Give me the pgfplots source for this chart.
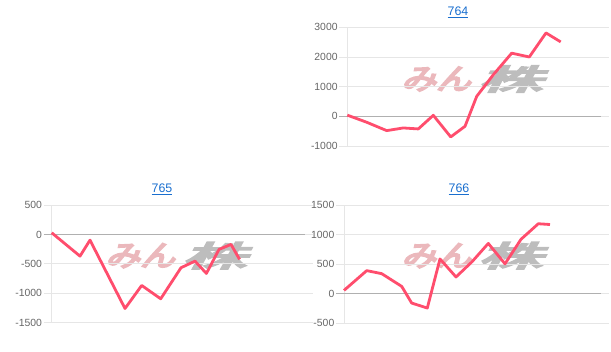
\documentclass[border=0pt]{standalone}
\usepackage{graphicx}
\usepackage{pgfplots}
\pgfplotsset{compat=1.18}
\usepackage{fontspec}
\setmainfont{Liberation Sans}
\newfontfamily\cjk[FakeBold=6,FakeSlant=0.25]{Noto Sans CJK JP}
\definecolor{linec}{HTML}{FF4D6D}
\definecolor{gridc}{HTML}{E6E6E6}
\definecolor{zeroc}{HTML}{B0B0B0}
\definecolor{tickc}{HTML}{666666}
\definecolor{titlec}{HTML}{1A6FCF}
\definecolor{wmpink}{HTML}{EBB8BC}
\definecolor{wmgray}{HTML}{BDBDBD}

\pgfplotstableread{
x y
0 40
19.4 -200
39.4 -482
56 -392
71 -425
86 34
103.4 -694
117.7 -337
129.4 673
146 1400
164.4 2128
182 2000
198.7 2810
213.4 2508
}\dataA

\pgfplotstableread{
x y
0 28
28.3 -369
38.3 -97
73.3 -1259
90 -867
109 -1094
129.3 -566
143.3 -454
154.7 -663
167.3 -255
179.3 -170
187.9 -425
}\dataB

\pgfplotstableread{
x y
0 56
22.7 390
37.7 339
57.7 124
67.7 -158
83.3 -242
96 588
112 283
128 540
144.3 850
161 505
177 920
194.3 1183
206 1170
}\dataC

\pgfplotsset{panel/.style={
  scale only axis, anchor=south west, xmin=0,
  axis line style={draw=none},
  ymajorgrids, grid style={gridc, line width=0.8pt},
  xtick=\empty,
  tick align=outside, major tick length=8pt,
  ytick style={gridc, line width=0.8pt},
  tick label style={font=\fontsize{10.4}{12}\selectfont, text=tickc},
  yticklabel style={anchor=east, inner sep=1.5pt},
  /pgf/number format/assume math mode=true,
  /pgf/number format/set thousands separator={},
  clip=false,
}}
\newcommand{\wm}[2]{%
  \node[wmpink, inner sep=0pt] at (#1pt-37pt,#2pt) {\cjk\fontsize{29}{29}\selectfont\scalebox{1.2}[1]{みん}};
  \node[wmgray, inner sep=0pt] at (#1pt+37pt,#2pt) {\cjk\fontsize{29}{29}\selectfont\scalebox{2.2}[1]{株}};
}

\begin{document}
\begin{tikzpicture}[x=1pt,y=1pt]
\useasboundingbox (0,0) rectangle (611,352);
\wm{473}{273}
\wm{177}{96.3}
\wm{473}{96.3}
\node[titlec, anchor=base, font=\fontsize{12.4}{14}\selectfont] at (458,336) {\underline{764}};
\node[titlec, anchor=base, font=\fontsize{12.4}{14}\selectfont] at (162,159.3) {\underline{765}};
\node[titlec, anchor=base, font=\fontsize{12.4}{14}\selectfont] at (459,159.3) {\underline{766}};

\begin{axis}[panel, at={(347.3pt,206pt)}, width=253.7pt, height=118.7pt,
  xmax=253.7, ymin=-1000, ymax=3000, ytick={-1000,0,1000,2000,3000}]
\draw[gridc, line width=0.8pt] (rel axis cs:0,0) -- (rel axis cs:0,1);
\draw[zeroc, line width=0.8pt] ([xshift=-8pt]axis cs:0,0) -- (axis cs:253.7,0);
\addplot[linec, line width=2.8pt, line join=round, no marks] table {\dataA};
\end{axis}

\begin{axis}[panel, at={(51.7pt,29.3pt)}, width=253.3pt, height=117.7pt,
  xmax=253.3, ymin=-1500, ymax=500, ytick={-1500,-1000,-500,0,500}]
\draw[gridc, line width=0.8pt] (rel axis cs:0,0) -- (rel axis cs:0,1);
\draw[zeroc, line width=0.8pt] ([xshift=-8pt]axis cs:0,0) -- (axis cs:253.3,0);
\addplot[linec, line width=2.8pt, line join=round, no marks] table {\dataB};
\end{axis}

\begin{axis}[panel, at={(344pt,28.7pt)}, width=257pt, height=118.3pt,
  xmax=257, ymin=-500, ymax=1500, ytick={-500,0,500,1000,1500}]
\draw[gridc, line width=0.8pt] (rel axis cs:0,0) -- (rel axis cs:0,1);
\draw[zeroc, line width=0.8pt] ([xshift=-8pt]axis cs:0,0) -- (axis cs:257,0);
\addplot[linec, line width=2.8pt, line join=round, no marks] table {\dataC};
\end{axis}
\end{tikzpicture}
\end{document}
